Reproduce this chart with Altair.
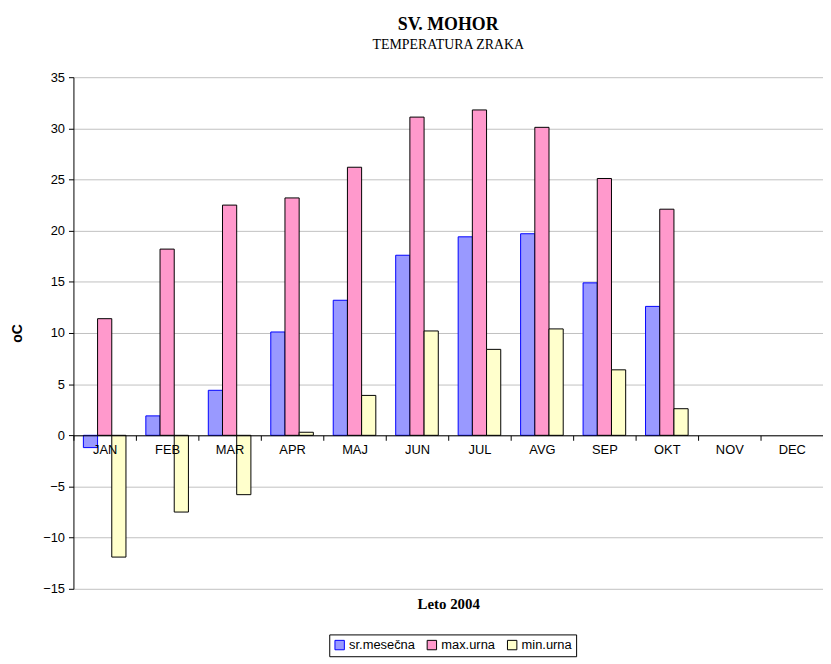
import altair as alt
import pandas as pd

months = ["JAN", "FEB", "MAR", "APR", "MAJ", "JUN", "JUL", "AVG", "SEP", "OKT", "NOV", "DEC"]
series = ["sr.mesečna", "max.urna", "min.urna"]
data_months = ["JAN", "FEB", "MAR", "APR", "MAJ", "JUN", "JUL", "AVG", "SEP", "OKT"]
mean_vals = [-1.2, 1.9, 4.4, 10.1, 13.2, 17.6, 19.4, 19.7, 14.9, 12.6]
max_vals = [11.4, 18.2, 22.5, 23.2, 26.2, 31.1, 31.8, 30.1, 25.1, 22.1]
min_vals = [-11.9, -7.5, -5.8, 0.3, 3.9, 10.2, 8.4, 10.4, 6.4, 2.6]
fill_colors = ["#9999FF", "#FF99CC", "#FFFFCC"]
stroke_colors = ["#0000FF", "#000000", "#000000"]
y_ticks = [-15, -10, -5, 0, 5, 10, 15, 20, 25, 30, 35]

rows = []
for s, vals in zip(series, [mean_vals, max_vals, min_vals]):
    for m, v in zip(data_months, vals):
        rows.append({"month": m, "series": s, "value": v})
df = pd.DataFrame(rows)

W, H = 756, 516
zero_off = H * 15 / 50

sans = "Liberation Sans"
serif = "Liberation Serif"

legend = alt.Legend(
    title=None, orient="none", legendX=258, legendY=562, direction="horizontal",
    strokeColor="#000000", padding=4, fillColor="#ffffff",
    symbolType="square", symbolSize=90, symbolStrokeWidth=1,
    labelFont=sans, labelFontSize=13, labelColor="#000000",
    columnPadding=9, labelOffset=3,
)

chart = alt.Chart(df).mark_bar(strokeWidth=1).encode(
    x=alt.X(
        "month:N",
        scale=alt.Scale(domain=months, paddingInner=0, paddingOuter=0),
        axis=alt.Axis(
            title="Leto 2004", labelAngle=0, offset=-zero_off, tickBand="extent",
            domainColor="#000000", tickColor="#000000", tickSize=5, labelPadding=3,
            labelFont=sans, labelFontSize=13, labelColor="#000000",
            titleFont=serif, titleFontSize=15, titleFontWeight="bold", titleColor="#000000",
            titlePadding=142, grid=False, zindex=1,
        ),
    ),
    xOffset=alt.XOffset("series:N", scale=alt.Scale(domain=series, paddingInner=0, paddingOuter=0.7)),
    y=alt.Y(
        "value:Q",
        scale=alt.Scale(domain=[-15, 35], nice=False, zero=False),
        axis=alt.Axis(
            values=y_ticks, title="oC", grid=True, gridColor="#c0c0c0", gridWidth=1,
            domainColor="#000000", tickColor="#000000", tickSize=5, labelPadding=4,
            labelFont=sans, labelFontSize=13, labelColor="#000000",
            titleFont=sans, titleFontSize=14, titleFontWeight="bold", titleColor="#000000",
            titlePadding=18,
        ),
    ),
    fill=alt.Fill("series:N", scale=alt.Scale(domain=series, range=fill_colors), legend=legend),
    stroke=alt.Stroke("series:N", scale=alt.Scale(domain=series, range=stroke_colors), legend=legend),
).properties(
    width=W,
    height=H,
    title=alt.TitleParams(
        text="SV. MOHOR", subtitle="TEMPERATURA ZRAKA",
        font=serif, fontSize=18, fontWeight="bold", color="#000000",
        subtitleFont=serif, subtitleFontSize=14, subtitleColor="#000000",
        subtitlePadding=5, offset=19, anchor="middle",
    ),
    autosize=alt.AutoSizeParams(type="none"),
    padding={"left": 66, "top": 67, "right": 0, "bottom": 67},
).configure_view(stroke=None)

chart.save("out.html", embed_options={"renderer": "svg", "actions": False})
